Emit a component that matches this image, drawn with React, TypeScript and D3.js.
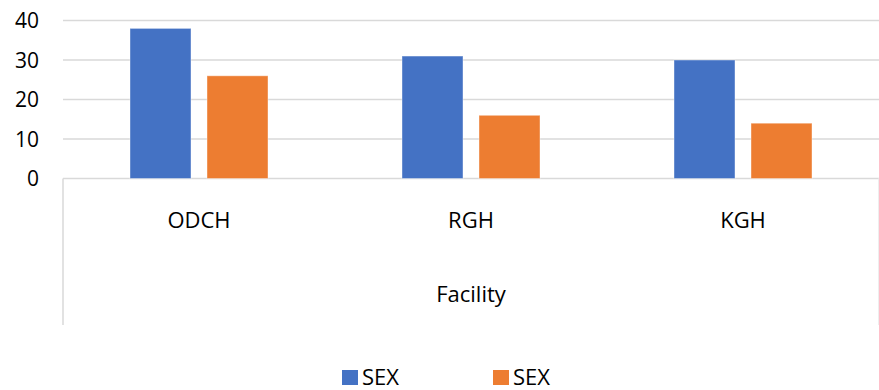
import React, { useEffect, useRef } from 'react';
import * as d3 from 'd3';

const facilities = ['ODCH', 'RGH', 'KGH'];
const seriesNames = ['SEX', 'SEX'];
const seriesA = [38, 31, 30];
const seriesB = [26, 16, 14];
const yTicks = [0, 10, 20, 30, 40];
const colors = ['#4472C4', '#ED7D31'];

function App() {
  const svgRef = useRef<SVGSVGElement>(null);

  useEffect(() => {
    const width = 879;
    const height = 390;
    const font = '"Open Sans", sans-serif';

    const svg = d3.select(svgRef.current)
      .attr('width', width)
      .attr('height', height);
    svg.selectAll('*').remove();

    const x0 = d3.scaleBand()
      .domain(facilities)
      .range([63, 879])
      .padding(0);

    const x1 = d3.scaleBand<number>()
      .domain([0, 1])
      .range([0, x0.bandwidth()])
      .paddingInner(0.208)
      .paddingOuter(0.87);

    const y = d3.scaleLinear()
      .domain([0, 40])
      .range([178.5, 20.5]);

    // gridlines
    svg.append('g')
      .selectAll('line')
      .data(yTicks)
      .enter()
      .append('line')
      .attr('x1', 63)
      .attr('x2', 879)
      .attr('y1', d => y(d))
      .attr('y2', d => y(d))
      .attr('stroke', '#d9d9d9')
      .attr('stroke-width', 1.5);

    // y labels
    svg.append('g')
      .selectAll('text')
      .data(yTicks)
      .enter()
      .append('text')
      .attr('x', 39)
      .attr('y', d => y(d) + 7.5)
      .attr('text-anchor', 'end')
      .style('font-family', font)
      .style('font-size', '21px')
      .attr('fill', '#000')
      .text(d => d);

    // category axis box lines
    svg.append('line')
      .attr('x1', 63).attr('x2', 63)
      .attr('y1', y(0)).attr('y2', 325)
      .attr('stroke', '#d9d9d9').attr('stroke-width', 1.5);
    svg.append('line')
      .attr('x1', 878.5).attr('x2', 878.5)
      .attr('y1', y(0)).attr('y2', 325)
      .attr('stroke', '#eeeeee').attr('stroke-width', 1);

    const groups = svg.append('g')
      .selectAll('g')
      .data(facilities)
      .enter()
      .append('g')
      .attr('transform', d => `translate(${x0(d)},0)`);

    groups.selectAll('rect')
      .data((d, i) => [seriesA[i], seriesB[i]])
      .enter()
      .append('rect')
      .attr('x', (d, j) => x1(j) as number)
      .attr('width', x1.bandwidth())
      .attr('y', d => y(d))
      .attr('height', d => y(0) - y(d))
      .attr('fill', (d, j) => colors[j])
      .attr('stroke', '#ffffff')
      .attr('stroke-opacity', 0.4)
      .attr('stroke-width', 1);

    // category labels
    svg.append('g')
      .selectAll('text')
      .data(facilities)
      .enter()
      .append('text')
      .attr('x', d => (x0(d) as number) + x0.bandwidth() / 2)
      .attr('y', 228)
      .attr('text-anchor', 'middle')
      .style('font-family', font)
      .style('font-size', '22px')
      .attr('fill', '#000')
      .text(d => d);

    // axis title
    svg.append('text')
      .attr('x', 471)
      .attr('y', 302)
      .attr('text-anchor', 'middle')
      .style('font-family', font)
      .style('font-size', '22px')
      .attr('fill', '#000')
      .text('Facility');

    // legend
    const legendX = [342, 493];
    const legend = svg.append('g')
      .selectAll('g')
      .data(seriesNames)
      .enter()
      .append('g')
      .attr('transform', (d, i) => `translate(${legendX[i]},0)`);
    legend.append('rect')
      .attr('x', 0)
      .attr('y', 370)
      .attr('width', 16)
      .attr('height', 15)
      .attr('fill', (d, i) => colors[i]);
    legend.append('text')
      .attr('x', 20)
      .attr('y', 385)
      .style('font-family', font)
      .style('font-size', '22px')
      .attr('fill', '#000')
      .text(d => d);
  }, []);

  return (
    <div style={{ position: 'absolute', left: 0, top: 0 }}>
      <svg ref={svgRef}></svg>
    </div>
  );
}

export default App;
